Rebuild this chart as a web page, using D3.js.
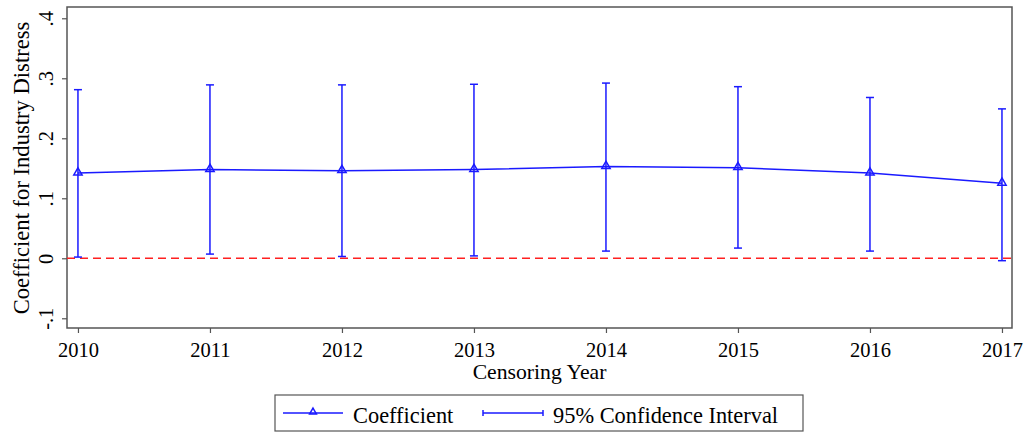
<!DOCTYPE html>
<html>
<head>
<meta charset="utf-8">
<script src="https://cdn.jsdelivr.net/npm/d3@7"></script>
<style>
  html, body { margin: 0; padding: 0; background: #fff; }
  svg { display: block; }
  text { font-family: "Liberation Serif", "DejaVu Serif", serif; fill: #000; }
</style>
</head>
<body>
<svg id="chart" width="1027" height="432"></svg>
<script>
const years = [2010, 2011, 2012, 2013, 2014, 2015, 2016, 2017];
const coefficient = [0.142, 0.148, 0.146, 0.148, 0.153, 0.151, 0.142, 0.125];
const ciUpper = [0.281, 0.289, 0.289, 0.290, 0.292, 0.286, 0.268, 0.249];
const ciLower = [0.002, 0.007, 0.003, 0.004, 0.012, 0.017, 0.012, -0.004];
const yTicks = [-0.1, 0, 0.1, 0.2, 0.3, 0.4];
const yTickLabels = ["-.1", "0", ".1", ".2", ".3", ".4"];
const legendLabels = ["Coefficient", "95% Confidence Interval"];

const blue = "#1a1aff";
const svg = d3.select("#chart");
const pLeft = 67, pRight = 1012, pTop = 7, pBottom = 328;

const x = d3.scaleLinear().domain([2009.917, 2017.076]).range([pLeft, pRight]);
const y = d3.scaleLinear().domain([-0.1162, 0.4188]).range([pBottom, pTop]);

// frame
svg.append("rect").attr("x", pLeft).attr("y", pTop)
  .attr("width", pRight - pLeft).attr("height", pBottom - pTop)
  .attr("fill", "none").attr("stroke", "#555").attr("stroke-width", 1.5);

// y axis
const yAxis = d3.axisLeft(y).tickValues(yTicks).tickSize(5)
  .tickFormat((d, i) => yTickLabels[i]);
const gy = svg.append("g").attr("transform", `translate(${pLeft},0)`).call(yAxis);
gy.select(".domain").remove();
gy.selectAll(".tick line").attr("stroke", "#555").attr("stroke-width", 1.2);
gy.selectAll(".tick text")
  .attr("font-size", 20.5).attr("font-family", "Liberation Serif")
  .attr("x", null).attr("dy", null)
  .attr("text-anchor", "middle")
  .attr("transform", "translate(-14,0) rotate(-90)")
  .attr("y", 0);

// x axis
const xAxis = d3.axisBottom(x).tickValues(years).tickSize(5).tickFormat(d3.format("d"));
const gx = svg.append("g").attr("transform", `translate(0,${pBottom})`).call(xAxis);
gx.select(".domain").remove();
gx.selectAll(".tick line").attr("stroke", "#555").attr("stroke-width", 1.2);
gx.selectAll(".tick text").attr("font-size", 20.5).attr("font-family", "Liberation Serif")
  .attr("y", 29).attr("dy", null);

// axis titles
svg.append("text").attr("x", (pLeft + pRight) / 2).attr("y", 379)
  .attr("text-anchor", "middle").attr("font-size", 21.7).text("Censoring Year");
svg.append("text")
  .attr("transform", `translate(29,168) rotate(-90)`)
  .attr("text-anchor", "middle").attr("font-size", 22.6)
  .text("Coefficient for Industry Distress");

// zero reference line
svg.append("line").attr("x1", pLeft).attr("x2", pRight)
  .attr("y1", y(0)).attr("y2", y(0))
  .attr("stroke", "#ff2020").attr("stroke-width", 1.5).attr("stroke-dasharray", "8,5");

const data = years.map((yr, i) => ({ yr, c: coefficient[i], lo: ciLower[i], hi: ciUpper[i] }));

// CI bars
const ci = svg.append("g").attr("stroke", blue).attr("stroke-width", 1.5);
data.forEach(d => {
  ci.append("line").attr("x1", x(d.yr)).attr("x2", x(d.yr)).attr("y1", y(d.lo)).attr("y2", y(d.hi));
  ci.append("line").attr("x1", x(d.yr) - 4).attr("x2", x(d.yr) + 4).attr("y1", y(d.lo)).attr("y2", y(d.lo));
  ci.append("line").attr("x1", x(d.yr) - 4).attr("x2", x(d.yr) + 4).attr("y1", y(d.hi)).attr("y2", y(d.hi));
});

// coefficient line
svg.append("path").datum(data)
  .attr("d", d3.line().x(d => x(d.yr)).y(d => y(d.c)))
  .attr("fill", "none").attr("stroke", blue).attr("stroke-width", 1.5);

const tri = d3.symbol().type(d3.symbolTriangle).size(30);
svg.selectAll(".mk").data(data).enter().append("path")
  .attr("transform", d => `translate(${x(d.yr)},${y(d.c) - 0.5})`)
  .attr("d", tri).attr("fill", "none").attr("stroke", blue).attr("stroke-width", 1.5);

// legend
const lg = svg.append("g");
lg.append("rect").attr("x", 275).attr("y", 395).attr("width", 528).attr("height", 36)
  .attr("fill", "#fff").attr("stroke", "#555").attr("stroke-width", 1.2);
const ly = 413;
lg.append("line").attr("x1", 283).attr("x2", 343).attr("y1", ly).attr("y2", ly)
  .attr("stroke", blue).attr("stroke-width", 1.5);
lg.append("path").attr("transform", `translate(313,${ly - 1})`)
  .attr("d", d3.symbol().type(d3.symbolTriangle).size(20))
  .attr("fill", "none").attr("stroke", blue).attr("stroke-width", 1.5);
lg.append("text").attr("x", 353).attr("y", 423).attr("font-size", 22.4).text(legendLabels[0]);
lg.append("line").attr("x1", 483).attr("x2", 543).attr("y1", ly).attr("y2", ly)
  .attr("stroke", blue).attr("stroke-width", 1.5);
lg.append("line").attr("x1", 483).attr("x2", 483).attr("y1", ly - 3).attr("y2", ly + 3)
  .attr("stroke", blue).attr("stroke-width", 1.5);
lg.append("line").attr("x1", 543).attr("x2", 543).attr("y1", ly - 3).attr("y2", ly + 3)
  .attr("stroke", blue).attr("stroke-width", 1.5);
lg.append("text").attr("x", 553).attr("y", 423).attr("font-size", 22.4).text(legendLabels[1]);
</script>
</body>
</html>
